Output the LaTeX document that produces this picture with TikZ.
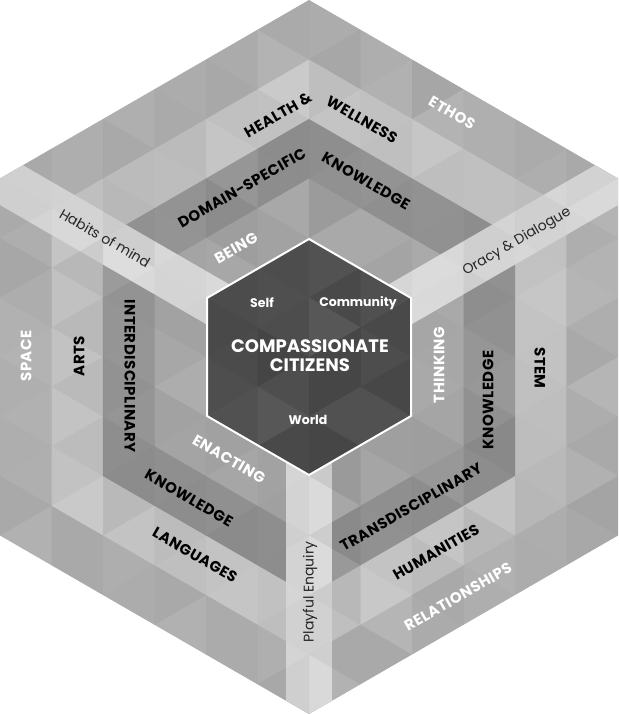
\documentclass[tikz,border=0pt]{standalone}
\usepackage{fontspec}
\setmainfont{Poppins}
\newfontfamily\lab{Poppins}[LetterSpace=3.0]
\usetikzlibrary{calc}
\definecolor{bandA}{HTML}{B0B0B0}
\definecolor{bandB}{HTML}{C5C5C5}
\definecolor{bandC}{HTML}{929292}
\definecolor{bandD}{HTML}{A6A6A6}
\definecolor{strip}{HTML}{DADADA}
\definecolor{core}{HTML}{474747}
\tikzset{
 lbl/.style={font=\lab\bfseries\fontsize{15}{16}\selectfont, inner sep=0pt},
 wl/.style={lbl, text=white},
 bl/.style={lbl, text=black},
 thin/.style={font=\fontsize{14}{15}\selectfont, inner sep=0pt, text=black!85},
 corelbl/.style={font=\bfseries\fontsize{12.5}{13}\selectfont, text=white, inner sep=0pt},
}
\begin{document}
\begin{tikzpicture}[x=1pt,y=-1pt]
\useasboundingbox (0,0) rectangle (618,714);
\coordinate (C) at (309,357);
\coordinate (T) at (309,0);
\coordinate (UR) at (618,178.5);
\coordinate (LR) at (618,535.5);
\coordinate (B) at (309,714);
\coordinate (LL) at (0,535.5);
\coordinate (UL) at (0,178.5);
% nested rhombi
\foreach \s/\c in {1/bandA,0.8333/bandB,0.6667/bandC,0.5/bandD}{
 \fill[\c] (C) -- ($(C)!\s!(UL)$) -- ($(C)!\s!(T)$) -- ($(C)!\s!(UR)$) -- cycle;
 \fill[\c] (C) -- ($(C)!\s!(UL)$) -- ($(C)!\s!(LL)$) -- ($(C)!\s!(B)$) -- cycle;
 \fill[\c] (C) -- ($(C)!\s!(UR)$) -- ($(C)!\s!(LR)$) -- ($(C)!\s!(B)$) -- cycle;
}
\begin{scope}
\clip (T) -- (UR) -- (LR) -- (B) -- (LL) -- (UL) -- cycle;
\draw[strip, line width=46pt] (C) -- ($(C)!1.2!(UL)$);
\draw[strip, line width=46pt] (C) -- ($(C)!1.2!(UR)$);
\draw[strip, line width=46pt] (C) -- ($(C)!1.2!(B)$);
% inner hexagon
\fill[core] (309,239) -- (411,298) -- (411,416) -- (309,475) -- (207,416) -- (207,298) -- cycle;
% triangle texture
\pgfmathsetseed{11}
\foreach \k in {-6,...,5}{
 \foreach \j in {-7,...,6}{
  \pgfmathsetmacro\xa{309+51.5*\k}
  \pgfmathsetmacro\xb{\xa+51.5}
  \pgfmathsetmacro\ya{357+59.5*\j+29.75*mod(\k+12,2)}
  \pgfmathsetmacro\oa{0.1*rnd}
  \pgfmathsetmacro\ob{0.07*rnd}
  \pgfmathsetmacro\oc{0.1*rnd}
  \pgfmathsetmacro\od{0.07*rnd}
  \fill[white,opacity=\oa] (\xa,\ya) -- (\xa,\ya+59.5) -- (\xb,\ya+29.75) -- cycle;
  \fill[black,opacity=\ob] (\xa,\ya) -- (\xa,\ya+59.5) -- (\xb,\ya+29.75) -- cycle;
  \fill[white,opacity=\oc] (\xb,\ya+29.75) -- (\xb,\ya+89.25) -- (\xa,\ya+59.5) -- cycle;
  \fill[black,opacity=\od] (\xb,\ya+29.75) -- (\xb,\ya+89.25) -- (\xa,\ya+59.5) -- cycle;
 }
}
\end{scope}
\draw[white, line width=2pt, line join=miter] (309,239) -- (411,298) -- (411,416) -- (309,475) -- (207,416) -- (207,298) -- cycle;
% core text
\node[corelbl] (self) at (262,303) {Self};
\node[corelbl] (comm) at (358,303) {Community};
\node[font=\bfseries\fontsize{18}{20}\selectfont, text=white, align=center, inner sep=0pt] (cc) at (310,356) {COMPASSIONATE\\[-1pt]CITIZENS};
\node[corelbl] (world) at (308,420) {World};
% top rhombus
\node[wl, rotate=-30] (ethos) at (452,113) {ETHOS};
\node[bl, rotate=30] (health) at (278,115) {HEALTH \&};
\node[bl, rotate=-30] (well) at (362,120) {WELLNESS};
\node[bl, rotate=30] (dom) at (242,188) {DOMAIN-SPECIFIC};
\node[bl, rotate=-30] (know1) at (366,181) {KNOWLEDGE};
\node[wl, rotate=30] (being) at (236,248) {BEING};
\node[thin, rotate=-30] (habits) at (105,238) {Habits of mind};
\node[thin, rotate=30] (oracy) at (517,242) {Oracy \& Dialogue};
% left rhombus
\node[wl, rotate=90] (space) at (26,356) {SPACE};
\node[bl, rotate=90] (arts) at (79,356) {ARTS};
\node[bl, rotate=-90] (inter) at (130,376) {INTERDISCIPLINARY};
\node[wl, rotate=-30] (enact) at (229,459) {ENACTING};
\node[bl, rotate=-30] (know2) at (189,498) {KNOWLEDGE};
\node[bl, rotate=-30] (lang) at (195,555) {LANGUAGES};
% bottom strip
\node[thin, rotate=90] (play) at (310,592) {Playful Enquiry};
% right rhombus
\node[wl, rotate=90] (think) at (439,365) {THINKING};
\node[bl, rotate=90] (know3) at (488,400) {KNOWLEDGE};
\node[bl, rotate=-90] (stem) at (540,368) {STEM};
\node[bl, rotate=30] (trans) at (411,507) {TRANSDISCIPLINARY};
\node[bl, rotate=30] (hum) at (436,552) {HUMANITIES};
\node[wl, rotate=30] (rel) at (458,597) {RELATIONSHIPS};
\end{tikzpicture}
\end{document}
